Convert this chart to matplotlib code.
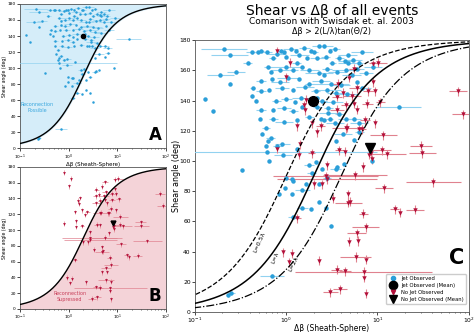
import matplotlib.pyplot as plt
import numpy as np

# events with a reconnection jet: delta beta, shear angle (deg), x error half-width (dex)
jet_dbeta = [0.21, 0.24, 0.38, 0.42, 0.49, 0.53, 0.62, 0.71, 0.87, 0.95,
             1.12, 1.27, 1.57, 1.85, 2.0, 2.3, 2.6, 3.0, 3.4, 4.7,
             6.8, 0.8, 1.0, 1.4, 1.7, 2.2, 2.7, 3.8, 4.4, 5.4,
             6.2, 3.2, 1.3, 0.28, 0.19, 0.24, 0.63, 0.68, 0.85, 1.0,
             1.2, 1.5, 1.8, 2.3, 2.8, 3.6, 4.5, 5.2, 0.53, 0.7,
             0.85, 1.05, 1.4, 1.8, 2.4, 3.1, 4.0, 0.43, 0.53, 0.65,
             0.9, 1.2, 1.6, 2.1, 2.8, 3.5, 0.47, 0.42, 0.78, 1.0,
             1.25, 1.45, 2.5, 3.3, 4.6, 0.13, 0.16, 0.53, 0.72, 0.95,
             1.2, 1.5, 2.2, 2.9, 3.8, 17, 0.52, 0.72, 0.95, 1.3,
             1.8, 2.6, 3.4, 4.5, 6.3, 0.55, 0.6, 0.63, 0.68, 0.6,
             0.62, 0.91, 1.33, 0.93, 0.65, 1.78, 2.1, 1.9, 2.5, 3.5,
             0.33, 0.99, 1.15, 0.97, 0.84, 1.16, 1.5, 2.3, 2.8, 1.5,
             1.85, 1.2, 3.1, 8.7, 6.3, 6.8, 5.6, 0.23, 0.25, 0.7,
             2.75, 2.3, 3.6, 4.3, 1.65, 1.2, 0.8, 2.2, 2.6, 2.9,
             2.4, 3.0, 5.5, 9.0, 7.5, 5.9, 4.2, 3.5, 5.9, 4.7]
jet_shear = [174, 170, 165, 172, 172, 173, 172, 168, 173, 172,
             174, 173, 175, 173, 172, 176, 176, 173, 174, 170,
             172, 171, 169, 170, 168, 168, 169, 168, 166, 167,
             165, 165, 165, 159, 157, 151, 162, 159, 160, 162,
             160, 162, 160, 158, 161, 159, 160, 157, 153, 154,
             152, 155, 154, 151, 153, 151, 150, 148, 146, 147,
             148, 147, 149, 146, 147, 145, 140, 143, 140, 141,
             139, 142, 140, 139, 144, 141, 133, 134, 134, 135,
             133, 136, 136, 132, 131, 136, 128, 128, 126, 127,
             129, 127, 125, 128, 125, 118, 122, 113, 115, 110,
             106, 111, 108, 104, 100, 97, 99, 92, 95, 95,
             94, 89, 88, 82, 78, 78, 81, 85, 89, 69,
             68, 63, 57, 100, 119, 148, 114, 11, 12.5, 24,
             69, 73, 96, 98, 85, 87, 110, 142, 157, 135,
             128, 128, 128, 162, 158, 152, 118, 113, 161, 165]
jet_err = [0.25, 0.2, 0.05, 0.06, 0.04, 0.03, 0.05, 0.04, 0.05, 0,
           0.08, 0, 0.06, 0, 0.05, 0.08, 0.1, 0, 0.06, 0.1,
           0.12, 0.1, 0, 0.1, 0, 0.08, 0.05, 0.05, 0.08, 0.1,
           0.05, 0.04, 0.05, 0.1, 0.15, 0, 0.04, 0, 0.1, 0.2,
           0.05, 0, 0.1, 0.15, 0.05, 0.1, 0.15, 0.1, 0.05, 0,
           0.1, 0.12, 0, 0.05, 0.1, 0.2, 0.1, 0.03, 0.05, 0,
           0.08, 0, 0.1, 0.05, 0.15, 0.1, 0, 0, 0.05, 0.06,
           0, 0.1, 0.05, 0.1, 0.12, 0, 0, 0.05, 0, 0.08,
           0.05, 0, 0.05, 0.1, 0.05, 0.25, 0, 0.05, 0.1, 0,
           0.05, 0, 0.1, 0.08, 0.1, 0, 0.04, 0, 0.05, 0,
           1.2, 0.08, 0, 0.1, 0, 0.05, 0, 0.05, 0, 0.06,
           0, 0, 0.03, 0, 0, 0, 0.08, 0, 0.04, 0.06,
           0, 0.06, 0, 0, 0.05, 0.1, 0, 0, 0.04, 0.13,
           0, 0, 0, 0, 0, 0, 0.05, 0, 0, 0.05,
           0, 0.04, 0.08, 0.1, 0.08, 0, 0.1, 0, 0.08, 0.1]

# events without a jet
nojet_dbeta = [0.8, 1.1, 1.0, 1.67, 1.6, 1.55, 1.33, 2.4, 0.8, 1.42,
               1.39, 1.9, 2.0, 2.5, 1.33, 2.2, 10.2, 9.0, 4.9, 3.7,
               5.9, 9.5, 7.9, 4.2, 3.6, 5.3, 10.7, 7.7, 5.5, 4.5,
               3.6, 6.0, 7.3, 9.5, 4.5, 6.7, 11.6, 8.0, 8.7, 11.1,
               12.8, 3.8, 4.4, 6.9, 5.7, 2.7, 2.8, 2.8, 4.8, 11.8,
               5.0, 3.3, 4.8, 15.5, 17.5, 26, 7.0, 41, 7.4, 5.9,
               6.1, 4.9, 5.8, 7.4, 3.6, 4.4, 7.1, 7.1, 3.06, 3.9,
               7.4, 0.93, 1.15, 1.07, 2.3, 76, 86, 30, 31, 8.4,
               5.6, 9.0, 4.6, 6.3, 1.9]
nojet_shear = [172.7, 165, 155.5, 140.5, 133.5, 137, 123, 123, 108, 111,
               104, 105, 84.5, 84.5, 62, 119, 165, 164, 155, 151,
               148, 146, 146, 145, 142.5, 143, 139, 138, 138, 137,
               134, 134, 127, 125, 121.5, 121, 117, 104, 101, 107,
               104.5, 107, 106, 96, 90.5, 90, 88, 97, 78, 82,
               73, 75, 72.4, 68, 65.6, 67.7, 65, 86, 56, 52,
               47, 46.5, 36.4, 34.6, 28, 27, 26.5, 22.8, 13.2, 15,
               12.2, 39.7, 38.6, 33, 34, 146, 131, 110, 105, 105,
               161, 152, 122, 121, 125]
nojet_err = [0, 0, 0, 0, 0, 0, 0, 0.05, 0, 0,
             0, 0.04, 0, 0, 0.04, 0, 0.1, 0, 0, 0.05,
             0.08, 0, 0.06, 0, 0.05, 0.1, 0.05, 0.06, 0, 0.05,
             0.08, 0, 0.05, 0, 0.15, 0.05, 0.15, 0, 0, 0.1,
             0.2, 0.05, 0, 0, 0.35, 0.57, 0.55, 0, 0, 0.1,
             0, 0, 0.15, 0.05, 0, 0.1, 0.05, 0.3, 0.15, 0.1,
             0, 0, 0.17, 0, 0.06, 0.07, 0.75, 0, 0.08, 0.08,
             0, 0, 0, 0, 0, 0.1, 0.12, 0.12, 0.15, 0,
             0.06, 0, 0, 0, 0]
nojet_yerr = 3

jet_mean = (1.95, 139.6)
nojet_mean = (8.2, 108.8)

jet_color, jet_ecolor = '#2b9fd9', '#92d2f0'
nojet_color, nojet_ecolor = '#b3103a', '#e0828f'


def swisdak(theta_deg, ratio):
    """Delta beta threshold of Swisdak et al. 2003 for L/lambda = ratio."""
    return 2 * ratio * np.tan(np.radians(theta_deg) / 2)


def draw_events(ax, x, y, dex, yerr, color, ecolor, marker, ms, elw):
    x = np.asarray(x, dtype=float)
    d = np.asarray(dex, dtype=float)
    xerr = [x - x / 10 ** d, x * 10 ** d - x]
    ax.errorbar(x, y, xerr=xerr, yerr=yerr, fmt=marker, color=color, ecolor=ecolor,
                ms=ms, elinewidth=elw, capsize=0, mew=0, zorder=3)


def style_axis(ax, fs):
    ax.set_xscale('log')
    ax.set_xlim(0.1, 100)
    ax.set_ylim(0, 180)
    ax.set_yticks(range(0, 181, 20))
    ax.tick_params(labelsize=fs, length=2, width=0.5, pad=1)
    ax.tick_params(which='minor', length=1, width=0.4)
    for s in ax.spines.values():
        s.set_color('#555555')
        s.set_linewidth(0.6)


theta = np.linspace(0.05, 179.95, 600)

fig = plt.figure(figsize=(4.74, 3.32), dpi=100)

# panel A
axA = fig.add_axes([0.0422, 0.554, 0.308, 0.434])
style_axis(axA, 3.2)
axA.fill_betweenx(theta, 1e-3, swisdak(theta, 1), color='#d5edf9', zorder=0)
axA.plot(swisdak(theta, 1), theta, color='black', lw=1.0, zorder=4)
draw_events(axA, jet_dbeta, jet_shear, jet_err, None, jet_color, jet_ecolor, 'o', 1.8, 0.5)
axA.plot(*jet_mean, 'o', color='black', ms=3, zorder=5)
axA.set_xlabel('Δβ (Sheath-Sphere)', fontsize=4, labelpad=0)
axA.set_ylabel('Reconnection Jet Observed\nShear angle (deg)', fontsize=3.3)
axA.yaxis.set_label_coords(-0.09, 0.5)
axA.text(0.12, 0.28, 'Reconnection\nPossible', transform=axA.transAxes, fontsize=3.5,
         color='#3aa7de', ha='center', va='center')
axA.text(0.97, 0.03, 'A', transform=axA.transAxes, fontsize=12, fontweight='bold',
         ha='right', va='bottom')

# panel B
axB = fig.add_axes([0.0422, 0.0693, 0.308, 0.428])
style_axis(axB, 3.2)
axB.fill_betweenx(theta, swisdak(theta, 1), 1e3, color='#f4d3d8', zorder=0)
axB.plot(swisdak(theta, 1), theta, color='black', lw=1.0, zorder=4)
draw_events(axB, nojet_dbeta, nojet_shear, nojet_err, nojet_yerr, nojet_color, nojet_ecolor,
            'v', 2.0, 0.5)
axB.plot(*nojet_mean, 'v', color='black', ms=3.5, zorder=5)
axB.set_ylabel('No Reconnection Jet Observed\nShear angle (deg)', fontsize=3.3)
axB.yaxis.set_label_coords(-0.09, 0.5)
axB.text(0.34, 0.09, 'Reconnection\nSupressed', transform=axB.transAxes, fontsize=3.5,
         color='#c8405a', ha='center', va='center')
axB.text(0.97, 0.03, 'B', transform=axB.transAxes, fontsize=12, fontweight='bold',
         ha='right', va='bottom')

# panel C
axC = fig.add_axes([0.411, 0.0602, 0.578, 0.819])
style_axis(axC, 4.3)
axC.tick_params(axis='x', pad=0.5)
draw_events(axC, jet_dbeta, jet_shear, jet_err, 1.0, jet_color, jet_ecolor, 'o', 3.2, 0.8)
draw_events(axC, nojet_dbeta, nojet_shear, nojet_err, nojet_yerr, nojet_color, nojet_ecolor,
            'v', 3.2, 0.8)
axC.plot(swisdak(theta, 0.5), theta, color='black', lw=0.9, ls='--', zorder=4)
axC.plot(swisdak(theta, 1), theta, color='black', lw=1.1, zorder=4)
axC.plot(swisdak(theta, 2), theta, color='black', lw=0.9, ls='-.', zorder=4)
axC.plot(*jet_mean, 'o', color='black', ms=7, zorder=5)
axC.plot(*nojet_mean, 'v', color='black', ms=7, zorder=5)
axC.text(0.51, 46, 'L=0.5λ', fontsize=4.5, rotation=66, ha='center', va='center')
axC.text(0.77, 36, 'L=λ', fontsize=4.5, rotation=68, ha='center', va='center')
axC.text(1.22, 32, 'L=2λ', fontsize=4.5, rotation=64, ha='center', va='center')
axC.set_xlabel('Δβ (Sheath-Sphere)', fontsize=5.5, labelpad=-0.5)
axC.set_ylabel('Shear angle (deg)', fontsize=5.8)
axC.yaxis.set_label_coords(-0.051, 0.5)
axC.text(0.985, 0.2, 'C', transform=axC.transAxes, fontsize=15, fontweight='bold',
         ha='right', va='center')

handles = [
    plt.Line2D([], [], ls='', marker='o', color=jet_color, ms=3),
    plt.Line2D([], [], ls='', marker='o', color='black', ms=6),
    plt.Line2D([], [], ls='', marker='v', color=nojet_color, ms=3),
    plt.Line2D([], [], ls='', marker='v', color='black', ms=6),
]
labels = ['Jet Observed', 'Jet Observed (Mean)', 'No Jet Observed', 'No Jet Observed (Mean)']
axC.legend(handles, labels, loc='lower right', fontsize=3.8, frameon=True, borderpad=0.4,
           labelspacing=0.35, handletextpad=0.5, framealpha=1, edgecolor='#cccccc',
           bbox_to_anchor=(1.0, 0.02))

fig.text(0.70, 0.967, 'Shear vs Δβ of all events', fontsize=10, ha='center', va='center')
fig.text(0.70, 0.934, 'Comarison with Swisdak et. al. 2003', fontsize=6.5, ha='center', va='center')
fig.text(0.70, 0.904, 'Δβ > 2(L/λ)tan(Θ/2)', fontsize=5.8, ha='center', va='center')

fig.savefig('out.png', dpi=100)
